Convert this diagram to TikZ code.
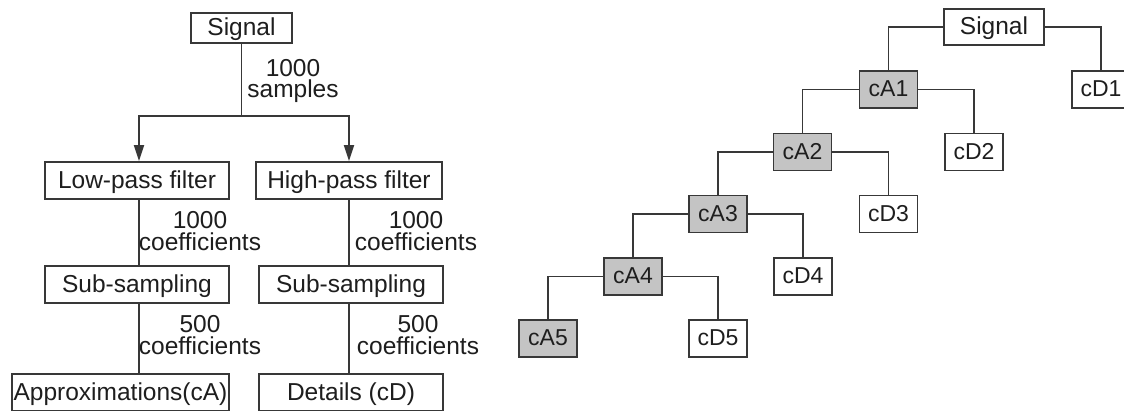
\documentclass[tikz,border=0pt]{standalone}
\usepackage{fontspec}
\setmainfont{Liberation Sans}
\usetikzlibrary{arrows.meta,calc}
\definecolor{linec}{HTML}{383838}
\definecolor{grayf}{HTML}{C4C4C4}
\definecolor{txt}{HTML}{1E1E1E}
\begin{document}
\begin{tikzpicture}[x=1pt,y=-1pt,
  box/.style={draw=linec, line width=1.9pt, rectangle, inner sep=0pt, fill=white,
    text=txt, font=\fontsize{24.5}{26}\selectfont, text height=17.5pt, text depth=2pt},
  bigbox/.style={box, minimum width=184pt, minimum height=37pt},
  sbox/.style={box, minimum width=58pt, minimum height=37pt,
    font=\fontsize{23}{24}\selectfont, text height=16.5pt, text depth=2pt},
  gbox/.style={sbox, fill=grayf},
  conn/.style={draw=linec, line width=1.9pt},
  arr/.style={conn, -{Triangle[length=16pt,width=10pt]}},
  lbl/.style={align=center, inner sep=0pt, text=txt, font=\fontsize{24.5}{21.5}\selectfont}]
\useasboundingbox (0,0) rectangle (1124,410);
\fill[white] (0,0) rectangle (1124,410);

% ---------------- left diagram ----------------
\node[box, minimum width=101pt, minimum height=30pt] (sigL) at (241.5,28) {Signal};
\node[bigbox] (low) at (137,180.5) {Low-pass filter};
\node[bigbox, minimum width=186pt] (high) at (349,180.5) {High-pass filter};
\node[bigbox] (subL) at (137,284.5) {Sub-sampling};
\node[bigbox] (subR) at (351,284.5) {Sub-sampling};
\node[bigbox, minimum width=217pt] (appr) at (120.5,392.5) {Approximations(cA)};
\node[bigbox] (det) at (351,392.5) {Details (cD)};

\coordinate (lx) at (139,0);
\coordinate (split) at (241.5,116);
\draw[conn] (sigL.south) -- (split);
\draw[arr] (split) -| (lx |- low.north);
\draw[arr] (split) -| (high.north);
\draw[conn] (lx |- low.south) -- (lx |- subL.north);
\draw[conn] (high.south) -- (high.south |- subR.north);
\draw[conn] (lx |- subL.south) -- (lx |- appr.north);
\draw[conn] (high.south |- subR.south) -- (high.south |- det.north);

\node[lbl] (l1) at (293,81) {1000\\samples};
\node[lbl] (l2) at (200,231) {1000\\coefficients};
\node[lbl] (l3) at (416,231) {1000\\coefficients};
\node[lbl] (l4) at (200,335) {500\\coefficients};
\node[lbl] (l5) at (418,335) {500\\coefficients};

% ---------------- right tree ----------------
\node[box, minimum width=100pt, minimum height=36pt] (sigR) at (994,27) {Signal};
\node[gbox] (cA1) at (888.5,89.5) {cA1};
\node[sbox] (cD1) at (1101,89.5) {cD1};
\node[gbox] (cA2) at (802.5,152) {cA2};
\node[sbox] (cD2) at (974,152) {cD2};
\node[gbox] (cA3) at (718,214) {cA3};
\node[sbox] (cD3) at (888.5,214) {cD3};
\node[gbox] (cA4) at (633,276.5) {cA4};
\node[sbox] (cD4) at (803,276.5) {cD4};
\node[gbox] (cA5) at (548,338.5) {cA5};
\node[sbox] (cD5) at (718,338.5) {cD5};

\draw[conn] (sigR) -| (cA1);
\draw[conn] (sigR) -| (cD1);
\draw[conn] (cA1) -| (cA2);
\draw[conn] (cA1) -| (cD2);
\draw[conn] (cA2) -| (cA3);
\draw[conn] (cA2) -| (cD3);
\draw[conn] (cA3) -| (cA4);
\draw[conn] (cA3) -| (cD4);
\draw[conn] (cA4) -| (cA5);
\draw[conn] (cA4) -| (cD5);
\end{tikzpicture}
\end{document}
